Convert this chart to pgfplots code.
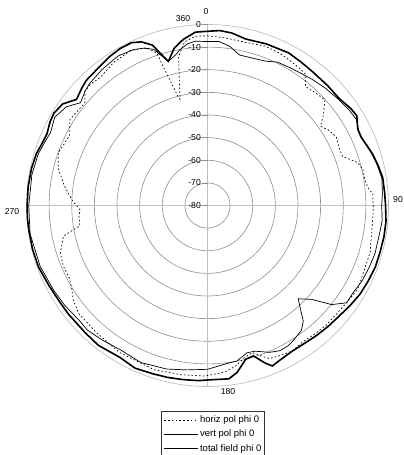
\documentclass[border=0pt]{standalone}
\usepackage{pgfplots}
\pgfplotsset{compat=1.18}
\usepackage{pgfplotstable}
\usepgfplotslibrary{polar}
\usepackage{fontspec}
\setmainfont{Liberation Sans}

\definecolor{ringgray}{HTML}{8E8E8E}
\definecolor{axisgray}{HTML}{B8C0CC}

\pgfplotstableread{
theta db
0 -5
6 -5.5
12 -6
20 -5.1
25 -5.5
29 -6.2
34 -7
36.5 -7.5
39.5 -11.9
44 -11
48 -10.2
52 -15
55 -19
58 -17
62 -15.5
66 -16.5
70 -16.5
74 -11
77 -9.5
80.6 -9.5
83.4 -8.8
86 -6.8
91 -6.7
99 -6.5
106 -5.2
113 -5
119 -4
125 -5
130 -5.5
135 -5.5
140 -6
145 -6.5
150 -5.5
155 -6.5
158 -7
160 -9
163 -12
166 -11
170 -8
174 -6
177 -5.5
181 -4.6
189 -4.3
198 -3.7
205 -4.5
211 -4.3
221 -5.4
230 -5.7
235 -7.5
238 -9.4
242 -11
247 -10.9
252 -11.6
258 -14.9
261 -22.9
265 -23
268 -23.6
272.5 -20
278 -16
284 -12
289.5 -10
293 -11
297 -11.6
302 -8.3
306 -9
310 -9.3
313 -6
316 -5.5
320 -6.2
326.6 -4.4
333.6 -3.5
338.9 -5.3
341.6 -8.9
342.5 -17
345 -30.5
345.5 -31.5
349 -13
352 -7
356 -5
360 -5
}\horizpol

\pgfplotstableread{
theta db
0 -7.5
4 -7.3
8 -9
12 -12
18 -11.8
22 -11.2
26 -9.5
31 -9
35 -8.5
40 -7.5
45 -6.5
51 -5.5
56 -4.5
60 -4
64 -5.5
68 -5.3
72 -4
76 -3
81 -2
86 -2.5
90 -3
95 -2.5
100 -3
106 -3
111 -3.5
116 -4
121 -5
125 -5
128.6 -9.8
132 -18
135.8 -22.5
140.4 -13.6
143 -11
147 -9.5
150 -8.5
153.5 -8.3
157 -9.5
162 -12.3
165 -12.6
169.4 -10
172 -9.8
176 -8.9
180 -7.6
187 -6.8
194 -5.5
203 -4.6
211 -5.5
218 -4.5
224 -3.5
228 -3.9
235 -3
241 -2.4
250 -1.3
261 -0.6
270 -1
280 -1.2
287 -1.8
292 -3
295 -3.5
300 -2
305 -3.9
309 -7.8
313 -6
316 -5
322 -4
329 -3
334.6 -3.7
338 -5
341 -7
344.8 -14
348 -12
350 -10
353 -8
355.6 -7.2
360 -7.5
}\vertpol

\pgfplotstableread{
theta db
0 -3
4 -2.5
8 -3
13 -4.5
20 -4
28 -3.6
33 -4.3
38 -4.8
45 -5
51 -5
56 -3.5
59 -3
63 -5.5
66 -5.7
70 -4.5
73 -3.5
77 -2.5
81 -1.6
86 -1.5
90 -1.3
95 -0.8
100 -0.8
105 -1
110 -1
115 -1.5
120 -2
125 -3
130 -4
135 -4.5
140 -5
145 -5.5
150 -5.5
155 -4.5
158 -3.5
160 -6
163 -10.5
166 -10
170 -5
173 -2.8
178 -3
183 -2.5
188 -2.3
193 -2
198 -1.8
204 -1.3
210 -2.5
218 -1.6
224 -2
228 -2.2
232 -2
237 -2
243 -1.5
250 -0.5
256 -0.3
262 -0.3
266 -0.2
270 -0.3
276 -0.3
282 -0.5
287 -1
291 -2
294 -2.3
298 -1.2
301 -0.8
305 -1.8
309 -5.5
313 -4
316 -3
322 -2.3
327 -1.2
331 -0.6
335 -0.6
338 -2
341 -5
344.8 -14
348 -9
351.7 -5.8
356 -3.2
360 -3
}\totalfld

\begin{document}
\begin{tikzpicture}
\begin{polaraxis}[
  scale only axis, width=362pt, height=362pt,
  xmin=0, xmax=360, ymin=0, ymax=80,
  xtick=\empty, ytick={10,20,...,70}, yticklabels={},
  ymajorgrids, grid style={ringgray, line width=0.6pt},
  major tick length=0pt,
  axis line style={axisgray, line width=0.7pt},
  clip=false,
  legend cell align=left,
  legend style={at={(0.515,-0.069)}, anchor=north, draw=black!80, line width=0.6pt,
    font=\fontsize{9.5}{11}\selectfont, inner xsep=2pt, inner ysep=3pt,
    row sep=3.8pt, nodes={inner xsep=1pt, inner ysep=1pt}},
  legend image code/.code={\draw[#1] (0pt,0pt) -- (34pt,0pt);},
]
\coordinate (C) at (axis cs:0,0);
\draw[axisgray, line width=0.7pt] (axis cs:90,80) -- (axis cs:270,80);
\draw[axisgray, line width=0.7pt] (axis cs:0,80) -- (axis cs:180,80);
\addplot[black, line width=0.7pt, dash pattern=on 1.6pt off 2.2pt]
  table[x expr={450-\thisrow{theta}}, y expr={\thisrow{db}+80}] {\horizpol};
\addplot[black, line width=0.7pt]
  table[x expr={450-\thisrow{theta}}, y expr={\thisrow{db}+80}] {\vertpol};
\addplot[black, line width=1.6pt]
  table[x expr={450-\thisrow{theta}}, y expr={\thisrow{db}+80}] {\totalfld};
\legend{horiz pol phi 0, vert pol phi 0, total field phi 0}
\end{polaraxis}
\foreach \r/\lab in {80/0,70/-10,60/-20,50/-30,40/-40,30/-50,20/-60,10/-70,0/-80}{
  \draw[ringgray, line width=0.6pt] ([shift={(-6pt,\r*2.2625pt)}]C) -- ([shift={(0pt,\r*2.2625pt)}]C);
  \node[anchor=east, inner sep=0pt, font=\fontsize{8.6}{10}\selectfont] at ([shift={(-6.5pt,\r*2.2625pt)}]C) {\lab};
}
\begin{scope}[font=\fontsize{8.6}{10}\selectfont]
\node at ([shift={(-1.5pt,193.5pt)}]C) {0};
\node at ([shift={(-24.5pt,186.5pt)}]C) {360};
\node at ([shift={(190.5pt,5.5pt)}]C) {90};
\node at ([shift={(20.5pt,-186.5pt)}]C) {180};
\node at ([shift={(-195.5pt,-6.5pt)}]C) {270};
\end{scope}
\pgfresetboundingbox
\path[use as bounding box] ([shift={(-207.5pt,-249.5pt)}]C) rectangle ([shift={(196.5pt,205.5pt)}]C);
\end{tikzpicture}
\end{document}
